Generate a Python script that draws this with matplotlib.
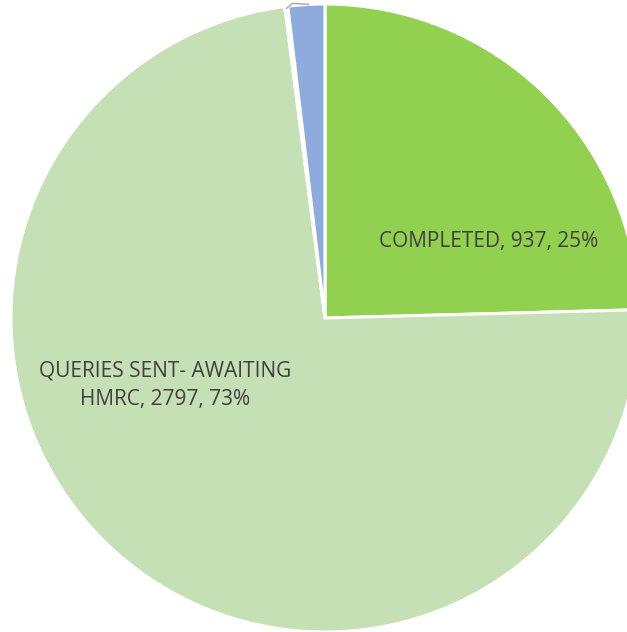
import numpy as np
import matplotlib.pyplot as plt

categories = ['COMPLETED', 'QUERIES SENT- AWAITING\nHMRC', 'OTHER', 'PENDING']
values = [937, 2797, 6, 72]
colors = ['#92D050', '#C5E0B4', '#7F7F7F', '#8FAADC']

fig = plt.figure(figsize=(6.27, 6.32), dpi=100)
ax = fig.add_axes([0, 0, 1, 1])

cx, cy, r = 325, 314, 314
wedges, _ = ax.pie(values, colors=colors, startangle=90, counterclock=False,
                   center=(cx, cy), radius=r, frame=True,
                   wedgeprops=dict(edgecolor='white', linewidth=2.2))
ax.set_xlim(0, 627)
ax.set_ylim(0, 632)
ax.set_aspect('equal')
ax.axis('off')

total = sum(values)
pct = [round(v / total * 100) for v in values]

ax.text(489, 390, f'{categories[0]}, {values[0]}, {pct[0]}%', ha='center', va='center',
        fontsize=15, color='#404040', family='Open Sans')
ax.text(165, 247, f'{categories[1]}, {values[1]}, {pct[1]}%', ha='center', va='center',
        fontsize=15, color='#404040', family='Open Sans', linespacing=1.45)

# leader line for the tiny slice
w = wedges[2]
mid = np.deg2rad((w.theta1 + w.theta2) / 2)
x0, y0 = cx + (r - 2) * np.cos(mid), cy + (r - 2) * np.sin(mid)
ax.plot([x0, x0 + 6, x0 + 22], [y0, y0 + 5, y0 + 4], color='#A6A6A6', lw=1)

fig.savefig('out.png', dpi=100)
